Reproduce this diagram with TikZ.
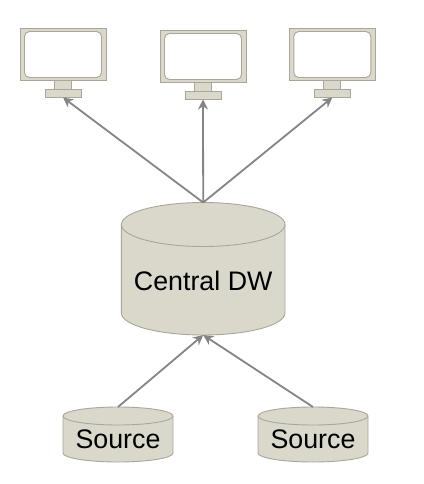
\documentclass[tikz,border=0pt]{standalone}
\usepackage{fontspec}
\setmainfont{Liberation Sans}
\usetikzlibrary{arrows.meta}
\definecolor{bodyfill}{HTML}{D9D8CB}
\definecolor{bodyline}{HTML}{A8A799}
\definecolor{linkgray}{HTML}{858585}
\tikzset{
  shapepart/.style={draw=bodyline,fill=bodyfill,line width=0.9pt},
  link/.style={draw=linkgray,line width=1.8pt,-{Stealth[length=10pt,width=10pt]}},
  label/.style={font=\fontsize{26.8pt}{30pt}\selectfont,text=black,inner sep=0pt},
  pics/monitor/.style={code={
    \path[shapepart] (-43,-35.5) rectangle (43,17);
    \path[shapepart,fill=white,rounded corners=5pt] (-38.5,-32) rectangle (38.5,14);
    \path[shapepart] (-8.5,17) rectangle (8.5,25.5);
    \path[shapepart] (-18,25.5) rectangle (18.3,34);
  }},
  pics/drum/.style n args={3}{code={
    \path[shapepart] (-#1,0) -- (-#1,#3) arc[start angle=180,end angle=0,x radius=#1,y radius=#2]
      -- (#1,0) arc[start angle=0,end angle=-180,x radius=#1,y radius=#2] -- cycle;
    \path[draw=bodyline,line width=0.9pt] (-#1,0) arc[start angle=180,end angle=0,x radius=#1,y radius=#2];
  }}
}
\begin{document}
\begin{tikzpicture}[x=1pt,y=-1pt]
\useasboundingbox[fill=white] (0,0) rectangle (423,484);
\pic at (63,63.5) {monitor};
\pic at (203,65.5) {monitor};
\pic at (332.3,63.5) {monitor};
\pic at (203.2,224.5) {drum={81.8}{22}{88.5}};
\pic at (118,416) {drum={55}{9}{37}};
\pic at (313,416) {drum={55}{9}{37}};
\coordinate (m1) at (63,97.5);
\coordinate (m2) at (203,99.5);
\coordinate (m3) at (332.3,97.5);
\coordinate (dwtop) at (203.2,202.5);
\coordinate (dwbot) at (203.2,335);
\coordinate (s1top) at (118,407);
\coordinate (s2top) at (313,407);
\node[label] (dw) at (203.2,280.5) {Central DW};
\node[label] (s1) at (118,439.5) {Source};
\node[label] (s2) at (313,439.5) {Source};
\draw[link] (dwtop) -- (m1);
\draw[link] (dwtop) -- (m2);
\draw[link] (dwtop) -- (m3);
\draw[link] (s1top) -- (dwbot);
\draw[link] (s2top) -- (dwbot);
\end{tikzpicture}
\end{document}
